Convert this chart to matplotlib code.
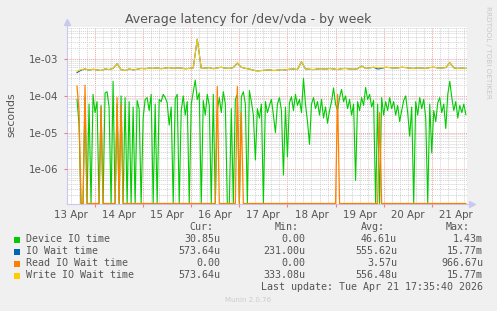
import numpy as np
import matplotlib
matplotlib.use("Agg")
import matplotlib.pyplot as plt
from matplotlib.patches import Rectangle
from matplotlib.ticker import FixedLocator, FixedFormatter, NullLocator

W, H = 497, 311

# time axis in days of April (13.0 = 13 Apr 00:00)
START = 13.625          # first sample, 13 Apr 15:00
X_MIN, X_MAX = 13.417, 21.733
Y_MIN, Y_MAX = 1.18e-7, 7.5e-3

day_labels = ["13 Apr", "14 Apr", "15 Apr", "16 Apr", "17 Apr",
              "18 Apr", "19 Apr", "20 Apr", "21 Apr"]
day_label_pos = [13.5, 14.5, 15.5, 16.5, 17.5, 18.5, 19.5, 20.5, 21.5]
y_tick_vals = [1e-6, 1e-5, 1e-4, 1e-3]
y_tick_labels = ["1e-06", "1e-05", "1e-04", "1e-03"]

# Device IO time, microseconds, one sample per hour (0 = nothing)
device_io = [
    80, 17, 0, 0, 90, 0, 60, 0, 110, 35,
    70, 0, 55, 0, 120, 130, 50, 0, 250, 0,
    60, 0, 100, 0, 90, 0, 70, 0, 50, 0,
    75, 45, 0, 25, 80, 90, 40, 110, 0, 60,
    0, 80, 70, 110, 90, 65, 16, 50, 0, 85,
    110, 0, 40, 100, 30, 70, 0, 60, 130, 270,
    80, 120, 0, 75, 30, 110, 55, 0, 110, 0,
    40, 90, 35, 130, 60, 0, 0, 45, 0, 80,
    110, 0, 95, 130, 60, 0, 140, 70, 30, 1.8,
    45, 25, 60, 0, 70, 35, 55, 80, 30, 10,
    60, 90, 40, 0.7, 50, 2.2, 65, 95, 40, 110,
    55, 80, 35, 300, 60, 20, 4.8, 60, 90, 45,
    70, 30, 80, 25, 50, 18, 40, 70, 165, 60,
    40, 90, 150, 70, 100, 45, 80, 30, 60, 0.5,
    70, 40, 90, 55, 170, 80, 110, 50, 75, 0,
    60, 0, 90, 30, 70, 40, 90, 45, 70, 30,
    55, 20, 40, 75, 100, 35, 8, 50, 0, 70,
    30, 90, 45, 80, 25, 0, 60, 2.8, 40, 20,
    65, 90, 35, 60, 13, 110, 250, 90, 40, 70,
    25, 55, 35, 60, 31,
]

# IO wait / write IO wait, microseconds, one sample every 2 hours
io_wait = [
    430, 500, 540, 500, 530, 510, 490, 540, 520, 560,
    750, 520, 490, 540, 510, 530, 560, 550, 570, 560,
    580, 550, 570, 590, 560, 580, 570, 550, 560, 580,
    3500, 560, 570, 590, 550, 580, 600, 570, 560, 590,
    780, 600, 560, 540, 500, 480, 490, 500, 510, 490,
    500, 520, 510, 530, 540, 520, 850, 540, 530, 520,
    540, 550, 530, 560, 540, 520, 550, 560, 540, 530,
    550, 650, 560, 580, 600, 540, 560, 600, 590, 570,
    580, 600, 590, 570, 560, 580, 570, 560, 590, 600,
    580, 570, 590, 800, 580, 560, 570, 560,
]
write_wait = [
    470, 520, 540, 500, 530, 510, 490, 540, 520, 560,
    750, 520, 490, 540, 510, 530, 560, 550, 570, 560,
    580, 550, 570, 590, 560, 580, 570, 550, 560, 580,
    3500, 560, 570, 590, 550, 580, 600, 570, 560, 590,
    800, 600, 560, 540, 500, 480, 490, 500, 510, 490,
    500, 520, 510, 530, 540, 520, 850, 540, 530, 520,
    540, 550, 530, 560, 540, 520, 550, 560, 540, 530,
    550, 650, 560, 580, 600, 590, 580, 600, 590, 570,
    580, 600, 590, 570, 560, 580, 570, 560, 590, 600,
    580, 570, 590, 800, 580, 560, 570, 560,
]

# Read IO wait: zero except these hours (microseconds)
read_hours = [0, 1, 4, 12, 20, 22, 70, 80, 82, 130, 151]
read_vals = [185, 40, 195, 50, 90, 60, 180, 180, 35, 110, 35]

legend_names = ["Device IO time", "IO Wait time", "Read IO Wait time", "Write IO Wait time"]
legend_colors = ["#00CC00", "#0066B3", "#FF8000", "#FFCC00"]
cur_vals = ["30.85u", "573.64u", "0.00", "573.64u"]
min_vals = ["0.00", "231.00u", "0.00", "333.08u"]
avg_vals = ["46.61u", "555.62u", "3.57u", "556.48u"]
max_vals = ["1.43m", "15.77m", "966.67u", "15.77m"]

TEXT = "#555555"

t_hour = START + np.arange(len(device_io)) / 24.0
t_2h = START + np.arange(len(io_wait)) * 2 / 24.0

read_full = np.zeros(len(device_io))
read_full[read_hours] = read_vals


def to_sec(v):
    v = np.asarray(v, dtype=float) * 1e-6
    # rrdtool puts zeros on the floor of a log graph
    return np.where(v > 0, v, Y_MIN)


fig = plt.figure(figsize=(W / 100, H / 100), dpi=100, facecolor="#F0F0F0")
ax = fig.add_axes([67 / W, 1 - 203.5 / H, 400 / W, 176.5 / H])
ax.set_facecolor("white")
ax.set_yscale("log")
ax.set_xlim(X_MIN, X_MAX)
ax.set_ylim(Y_MIN, Y_MAX)

for s in ax.spines.values():
    s.set_visible(False)

# grid
dot = (0, (1, 1))
minor_c, major_c = "#D2D2D2", "#F2A0A0"
for k in range(int(X_MIN * 6), int(X_MAX * 6) + 1):
    xv = k / 6
    if xv < X_MIN or xv > X_MAX:
        continue
    is_day = k % 6 == 0
    ax.axvline(xv, color=major_c if is_day else minor_c, lw=0.7, ls=dot, zorder=0.5)
for e in range(-7, -2):
    for m in range(1, 10):
        yv = m * 10.0 ** e
        if Y_MIN < yv < Y_MAX:
            ax.axhline(yv, color=major_c if m == 1 else minor_c, lw=0.7, ls=dot, zorder=0.5)

# data
ax.plot(t_hour, to_sec(device_io), color=legend_colors[0], lw=0.8, zorder=2)
ax.plot(t_2h, to_sec(io_wait), color=legend_colors[1], lw=0.8, zorder=3)
ax.plot(t_hour, to_sec(read_full), color=legend_colors[2], lw=0.9, zorder=4, clip_on=False)
ax.plot(t_2h, to_sec(write_wait), color=legend_colors[3], lw=0.8, zorder=5)

# ticks
ax.xaxis.set_major_locator(FixedLocator(day_label_pos))
ax.xaxis.set_major_formatter(FixedFormatter(day_labels))
ax.xaxis.set_minor_locator(FixedLocator(range(14, 22)))
ax.yaxis.set_major_locator(FixedLocator(y_tick_vals))
ax.yaxis.set_major_formatter(FixedFormatter(y_tick_labels))
ax.yaxis.set_minor_locator(NullLocator())
ax.tick_params(axis="x", which="major", length=0, pad=5, labelsize=7.4, labelcolor=TEXT)
ax.tick_params(axis="x", which="minor", length=2, color="#F08080", width=0.8)
ax.tick_params(axis="y", which="major", length=2, color="#F08080", width=0.8,
               pad=4, labelsize=7.4, labelcolor=TEXT)

# axis lines with arrows
axis_c = "#C8C8F0"
ax.plot([0, 0], [0, 1.03], transform=ax.transAxes, color=axis_c, lw=0.8,
        clip_on=False, zorder=1)
ax.plot([0, 1.012], [0, 0], transform=ax.transAxes, color=axis_c, lw=0.8,
        clip_on=False, zorder=1)
ax.plot([0], [1.03], transform=ax.transAxes, marker="^", ms=4, color=axis_c,
        clip_on=False, zorder=1)
ax.plot([1.012], [0], transform=ax.transAxes, marker=">", ms=4, color=axis_c,
        clip_on=False, zorder=1)


def px(x, y):
    return x / W, 1 - y / H


fig.text(*px(248, 19), "Average latency for /dev/vda - by week", ha="center",
         va="center", fontsize=9, color=TEXT)
fig.text(*px(11, 115), "seconds", rotation=90, ha="center", va="center",
         fontsize=7.8, color=TEXT)
fig.text(*px(488, 52), "RRDTOOL / TOBI OETIKER", rotation=270, ha="center",
         va="center", fontsize=5.2, color="#C8C8C8")

mono = "DejaVu Sans Mono"
for label, xr in zip(["Cur:", "Min:", "Avg:", "Max:"], [213, 298.5, 384.5, 470]):
    fig.text(*px(xr, 227.5), label, ha="right", va="center", fontsize=7.2,
             family=mono, color=TEXT)

rows_y = [239.5, 251.5, 263.5, 275.5]
for i, y in enumerate(rows_y):
    fig.patches.append(Rectangle(px(14, y + 3), 6 / W, 6 / H, transform=fig.transFigure,
                                 color=legend_colors[i], lw=0))
    fig.text(*px(26, y), legend_names[i], ha="left", va="center", fontsize=7.2,
             family=mono, color=TEXT)
    for vals, xr in zip([cur_vals, min_vals, avg_vals, max_vals], [220, 305, 397, 483]):
        fig.text(*px(xr, y), vals[i], ha="right", va="center", fontsize=7.2,
                 family=mono, color=TEXT)

fig.text(*px(483, 287.5), "Last update: Tue Apr 21 17:35:40 2026", ha="right",
         va="center", fontsize=7.2, family=mono, color=TEXT)
fig.text(*px(248, 300), "Munin 2.0.76", ha="center", va="center", fontsize=5,
         color="#CCCCCC")

fig.savefig("out.png", dpi=100, facecolor=fig.get_facecolor())
